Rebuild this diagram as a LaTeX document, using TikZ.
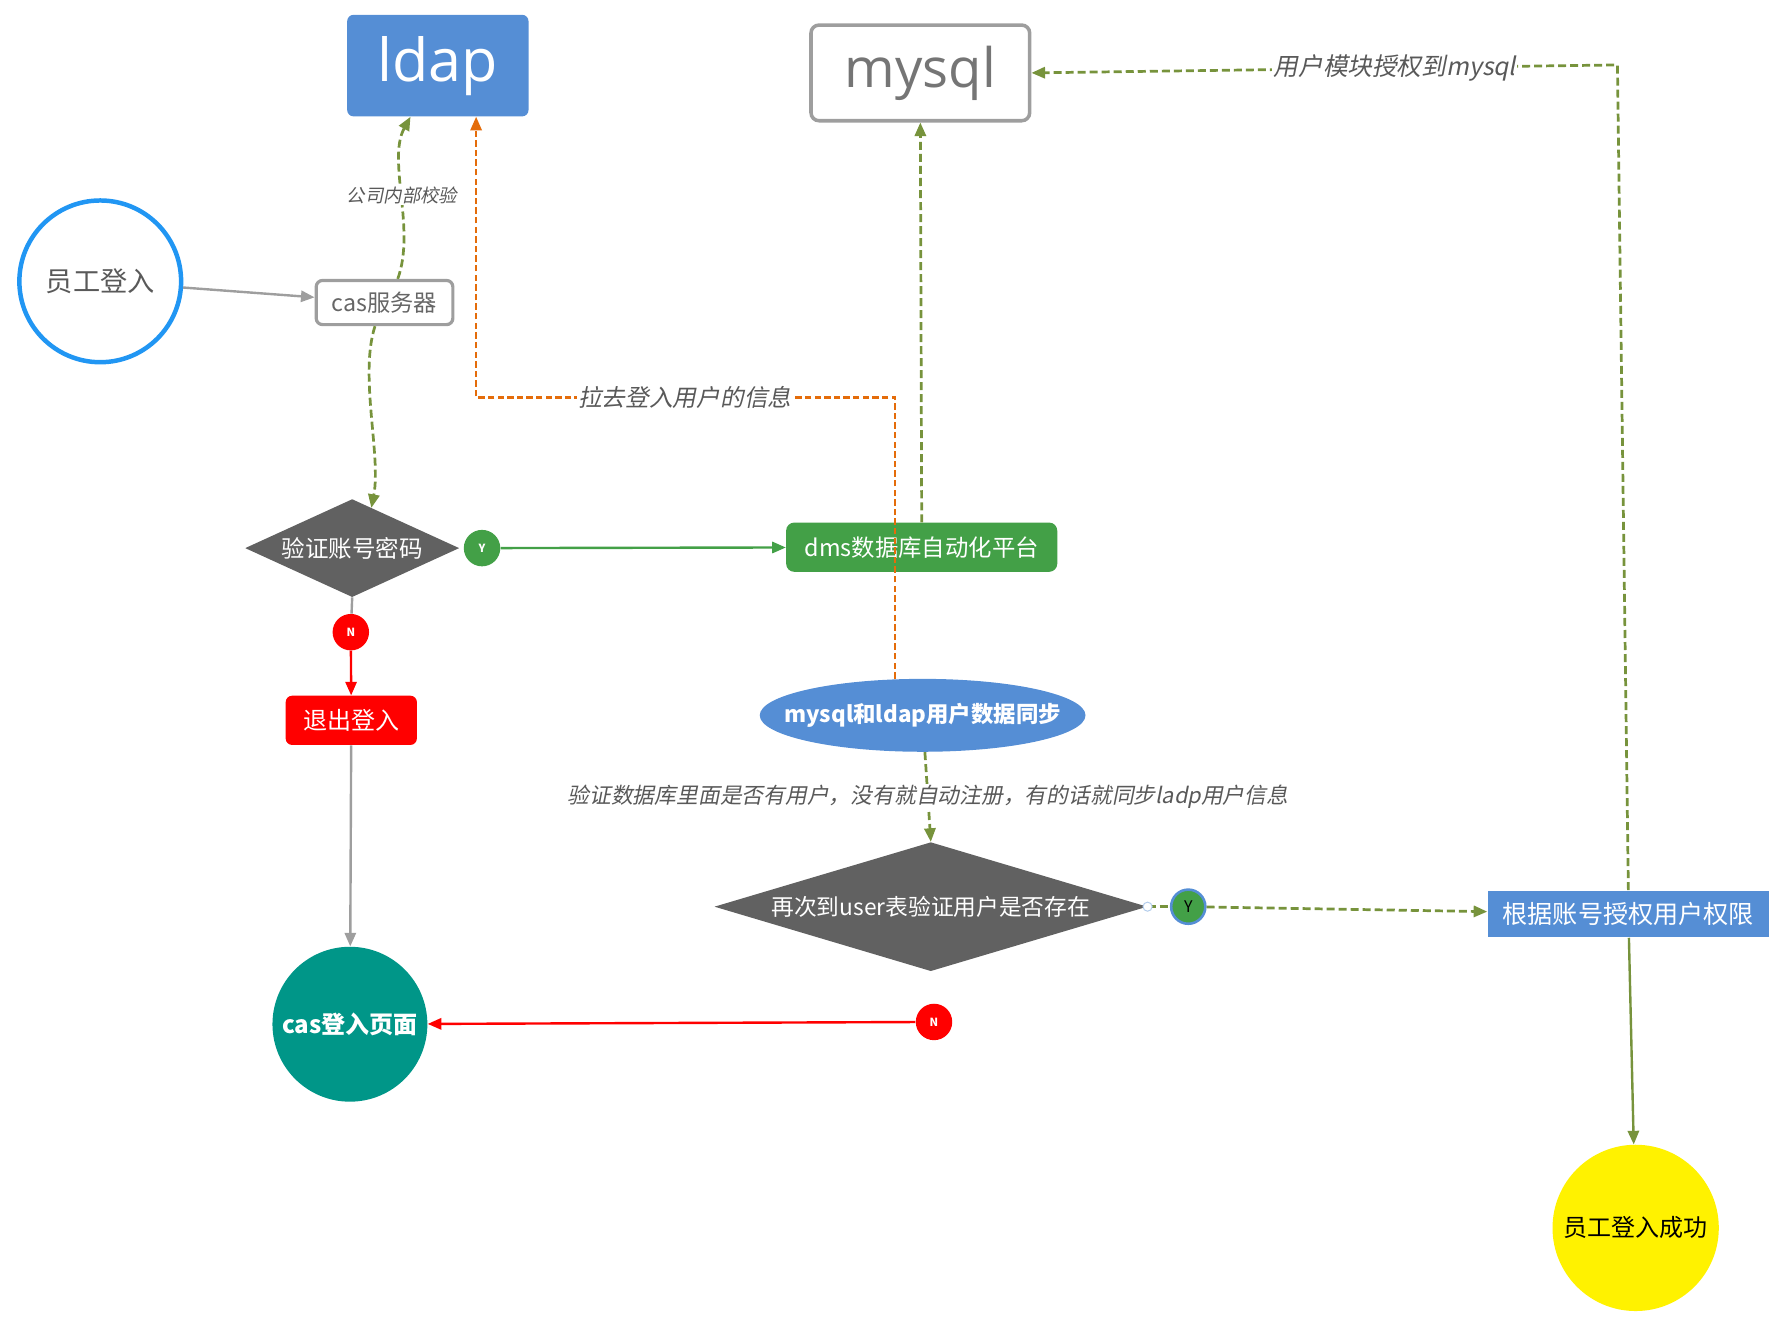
\documentclass[tikz,border=0pt]{standalone}
\usepackage{fontspec}
\setmainfont{Noto Sans CJK SC}
\newfontfamily\notefont[FakeSlant=0.2]{Noto Sans CJK SC}
\newfontfamily\bigfont{Open Sans}
\usetikzlibrary{shapes.geometric,arrows.meta}
\definecolor{ldapblue}{HTML}{558ED5}
\definecolor{casgray}{HTML}{9E9E9E}
\definecolor{dmsgreen}{HTML}{43A047}
\definecolor{flowgreen}{HTML}{77933C}
\definecolor{pullorange}{HTML}{E46C0A}
\definecolor{diagray}{HTML}{616161}
\definecolor{loginteal}{HTML}{009688}
\definecolor{empblue}{HTML}{2196F3}
\definecolor{notegray}{HTML}{595959}

\begin{document}
\begin{tikzpicture}[>={Triangle[length=8.5pt,width=7pt]},
  every node/.style={inner sep=0pt},
  txt/.style={font=\fontsize{#1}{#1}\selectfont},
  flow/.style={draw=flowgreen,line width=1.7pt,dash pattern=on 5pt off 2.5pt},
  link/.style={line width=1.5pt},
  note/.style={fill=white,inner sep=1pt,text=notegray,font=\notefont\fontsize{#1}{#1}\selectfont},
  badge/.style={circle,minimum size=0.8cm,font=\bfseries\fontsize{7}{7}\selectfont,text=white},
  decision/.style={diamond,fill=diagray,text=white}]
\useasboundingbox (0,0) rectangle (39.2,-29.175);

% top row
\node [fill=ldapblue,rounded corners=4pt,minimum width=3.98cm,minimum height=2.23cm,text=white,font=\bigfont\fontsize{37}{37}\selectfont] (ldap) at (9.61,-1.44) {ldap};
\node [draw=casgray,line width=2.2pt,rounded corners=5pt,minimum width=4.8cm,minimum height=2.1cm,text=black!54,font=\bigfont\fontsize{34}{34}\selectfont] (mysql) at (20.2,-1.6) {mysql};

% login
\node [circle,draw=empblue,line width=2.8pt,minimum size=3.55cm,text=notegray,txt=17] (emp) at (2.2,-6.175) {员工登入};
\node [draw=casgray,line width=2pt,rounded corners=4pt,minimum width=3.0cm,minimum height=0.97cm,text=black!60,txt=14.5] (cas) at (8.44,-6.64) {cas服务器};
\node [decision,aspect=2.2,minimum width=4.7cm,minimum height=2.15cm,txt=14.7] (check) at (7.73,-12.03) {验证账号密码};
\node [badge,fill=dmsgreen] (yes1) at (10.58,-12.03) {Y};
\node [badge,fill=red] (no1) at (7.7,-13.875) {N};
\node [fill=red,rounded corners=4pt,minimum width=2.88cm,minimum height=1.08cm,text=white,txt=15] (quit) at (7.71,-15.81) {退出登入};
\node [circle,fill=loginteal,minimum size=3.4cm,text=white,font=\bfseries\fontsize{15}{15}\selectfont] (caslogin) at (7.68,-22.48) {cas登入页面};

% dms side
\node [fill=dmsgreen,rounded corners=5pt,minimum width=5.95cm,minimum height=1.08cm,text=white,txt=14.6] (dms) at (20.23,-12.01) {dms数据库自动化平台};
\node [ellipse,fill=ldapblue,inner xsep=-0.62cm,minimum width=7.15cm,minimum height=1.6cm,text=white,font=\bfseries\fontsize{14}{14}\selectfont] (sync) at (20.25,-15.7) {mysql和ldap用户数据同步};
\node [decision,aspect=3.36,minimum width=9.5cm,minimum height=2.83cm,txt=14.2] (recheck) at (20.43,-19.9) {再次到user表验证用户是否存在};
\node [badge,fill=red] (no2) at (20.5,-22.43) {N};
\node [fill=ldapblue,minimum width=6.18cm,minimum height=1.03cm,text=white,txt=15.7] (auth) at (35.74,-20.06) {根据账号授权用户权限};
\node [circle,fill=yellow,minimum size=3.65cm,txt=15] (ok) at (35.9,-26.95) {员工登入成功};
\node [circle,fill=dmsgreen,draw=ldapblue,line width=1.6pt,minimum size=0.75cm,txt=10] (yes2) at (26.08,-19.9) {Y};

% connectors
\draw [casgray,link,->] (emp) -- (cas);
\draw [flow,->] ([xshift=0.29cm]cas.north) .. controls +(0.4,1.1) and +(-0.52,-0.95) .. node [note=11.5] (checkin) {公司内部校验} ([xshift=-0.6cm]ldap.south);
\draw [flow,->] ([xshift=-0.21cm]cas.south) .. controls +(-0.35,-1.08) and +(0.22,1.15) .. ([xshift=0.42cm,yshift=-0.2cm]check.north);
\draw [dmsgreen,link,->] (yes1) -- (dms);
\draw [casgray,link] (check.south) -- (no1);
\draw [red,link,->] (no1) -- (quit);
\draw [casgray,link,->] (quit) -- (caslogin);
\draw [flow,->] (dms.north) -- (mysql.south);

\coordinate (pullmid) at (15.03,-8.72);
\draw [pullorange,link,dash pattern=on 4pt off 2pt,->] ([xshift=-0.6cm]sync.north) |- (pullmid) -| ([xshift=0.84cm]ldap.south);
\node [note=14.8] (pull) at (pullmid) {拉去登入用户的信息};

\draw [flow,->] ([xshift=0.05cm]sync.south) -- node [note=13.6] (verify) {验证数据库里面是否有用户，没有就自动注册，有的话就同步ladp用户信息} (recheck.north);
\draw [flow] (recheck.east) -- (yes2);
\node [circle,draw=ldapblue!45,line width=0.6pt,fill=white,minimum size=0.2cm] (hole) at (recheck.east) {};
\draw [flow,->] (yes2) -- (auth);
\draw [red,link,->] (no2) -- (caslogin);
\draw [flowgreen,link,->] (auth) -- (ok);

\coordinate (grant) at (35.5,-1.425);
\draw [flow,->] (auth.north) -- (grant) -- node [note=15.4,pos=0.38] (authnote) {用户模块授权到mysql} (mysql.east);

\end{tikzpicture}
\end{document}
